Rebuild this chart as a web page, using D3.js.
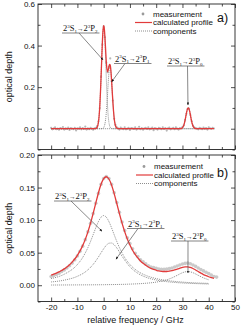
<!DOCTYPE html>
<html><head><meta charset="utf-8">
<script src="https://cdn.jsdelivr.net/npm/d3@7"></script>
<style>html,body{margin:0;padding:0;background:#fff;}svg{display:block;}</style>
</head><body>
<script>
// ---------- data ----------
const xTickLabels = [-20,-10,0,10,20,30,40,50];
const xMinorTicks = [-15,-5,5,15,25,35,45];
const topYLabels = [0.0,0.2,0.4,0.6];
const topYMinor = [-0.1,0.1,0.3,0.5];
const botYLabels = [0.00,0.05,0.10,0.15,0.20];
const botYMinor = [-0.025,0.025,0.075,0.125,0.175];
const legendLabels = ["measurement","calculated profile","components"];

// panel a) measurement, frequencies -20..42 GHz every 0.5 GHz
const topMeasFreq = d3.range(-20, 42.01, 0.5);
const topMeasValues = [
 0.004,-0.003,0.002,0.006,-0.002,0.001,-0.005,0.003,0.000,0.008,-0.004,0.002,-0.001,0.005,-0.006,0.003,0.001,-0.002,0.004,-0.008,
 0.002,0.000,0.006,-0.003,0.003,-0.001,0.010,-0.004,0.002,-0.002,0.004,0.001,-0.005,0.002,
 0.004,0.012,0.035,0.098,0.250,0.405,0.492,0.440,0.318,0.272,0.298,0.338,0.228,0.135,0.048,0.018,0.006,
 0.002,-0.004,0.005,0.001,-0.002,0.007,-0.003,0.000,0.004,-0.006,0.003,0.002,-0.001,0.006,-0.004,0.001,0.009,-0.002,0.003,-0.005,
 0.002,0.004,-0.001,0.006,-0.003,0.000,0.005,-0.007,0.003,0.001,-0.004,0.004,0.002,-0.002,0.007,-0.001,0.003,-0.009,0.002,0.005,
 -0.003,0.001,0.004,-0.002,0.006,0.000,-0.004,0.003,0.002,
 0.008,0.016,0.042,0.072,0.096,0.097,0.066,0.036,0.015,0.006,0.003,
 0.001,-0.003,0.004,0.002,-0.002,0.005,0.000,0.003,-0.004,0.006,0.002,-0.001,0.004,0.001
];
const topProfile = [[-20,0],[-3.5,0],[-3,0.001],[-2.75,0.0026],[-2.5,0.0065],[-2.25,0.0148],[-2,0.031],[-1.75,0.0588],[-1.5,0.103],[-1.25,0.166],[-1,0.245],[-0.75,0.332],[-0.5,0.413],[-0.25,0.472],[0,0.496],[0.25,0.481],[0.5,0.437],[0.75,0.378],[1,0.322],[1.25,0.286],[1.5,0.274],[1.75,0.283],[2,0.299],[2.25,0.310],[2.5,0.305],[2.75,0.279],[3,0.235],[3.25,0.182],[3.5,0.130],[3.75,0.085],[4,0.051],[4.25,0.028],[4.5,0.014],[4.75,0.0066],[5,0.003],[5.5,0],[29.5,0],[29.75,0.0025],[30,0.005],[30.25,0.0095],[30.5,0.0168],[30.75,0.0273],[31,0.0411],[31.25,0.0573],[31.5,0.0739],[31.75,0.0882],[32,0.0976],[32.25,0.0998],[32.5,0.0946],[32.75,0.083],[33,0.0674],[33.25,0.0506],[33.5,0.0352],[33.75,0.0227],[34,0.0135],[34.25,0.0075],[34.5,0.0038],[34.75,0.0018],[35,0.0008],[35.5,0],[42,0]];
const topCompP2 = [[-20,0],[-3.5,0],[-3,0.001],[-2.75,0.0026],[-2.5,0.0065],[-2.25,0.0148],[-2,0.031],[-1.75,0.0588],[-1.5,0.103],[-1.25,0.166],[-1,0.245],[-0.75,0.332],[-0.5,0.412],[-0.25,0.469],[0,0.49],[0.25,0.469],[0.5,0.412],[0.75,0.332],[1,0.245],[1.25,0.166],[1.5,0.103],[1.75,0.0588],[2,0.031],[2.25,0.0148],[2.5,0.0065],[2.75,0.0026],[3,0.001],[3.5,0],[40,0]];
const topCompP1 = [[-20,0],[-1,0],[-0.5,0.0009],[0,0.0056],[0.25,0.0122],[0.5,0.0246],[0.75,0.0456],[1,0.077],[1.25,0.120],[1.5,0.171],[1.75,0.224],[2,0.268],[2.25,0.295],[2.5,0.298],[2.75,0.276],[3,0.234],[3.25,0.182],[3.5,0.130],[3.75,0.085],[4,0.051],[4.25,0.028],[4.5,0.014],[4.75,0.0066],[5,0.003],[5.5,0],[40,0]];
const topCompP0 = [[-20,0],[29.5,0],[29.75,0.0025],[30,0.005],[30.25,0.0095],[30.5,0.0168],[30.75,0.0273],[31,0.0411],[31.25,0.0573],[31.5,0.0739],[31.75,0.0882],[32,0.0976],[32.25,0.0998],[32.5,0.0946],[32.75,0.083],[33,0.0674],[33.25,0.0506],[33.5,0.0352],[33.75,0.0227],[34,0.0135],[34.25,0.0075],[34.5,0.0038],[34.75,0.0018],[35,0.0008],[35.5,0],[40,0]];

// panel b)
const botMeasFreq = d3.range(-20, 43.5, 1);
const botMeasValues = [
 0.0135,0.015,0.0165,0.0185,0.021,0.0235,0.0265,0.030,0.034,0.039,
 0.045,0.052,0.060,0.070,0.082,0.095,0.110,0.126,0.141,0.155,
 0.164,0.167,0.164,0.155,0.142,0.127,0.112,0.097,0.084,0.073,
 0.064,0.056,0.049,0.044,0.039,0.036,0.033,0.030,0.028,0.027,
 0.026,0.025,0.0245,0.0245,0.025,0.0255,0.0265,0.028,0.0295,0.031,
 0.0325,0.0335,0.034,0.033,0.031,0.029,0.0265,0.024,0.022,0.020,
 0.018,0.0155,0.0135,0.0125
];
const botProfileFreq = d3.range(-20, 42.5, 1);
const botProfileValues = [
 0.0155,0.0169,0.0185,0.0204,0.0227,0.0251,0.0280,0.0315,0.0355,0.0403,
 0.0460,0.0527,0.0608,0.0704,0.0820,0.0953,0.1103,0.1262,0.1417,0.1550,
 0.1638,0.1666,0.1631,0.1539,0.1407,0.1255,0.1100,0.0953,0.0823,0.0711,
 0.0618,0.0538,0.0473,0.0419,0.0373,0.0336,0.0306,0.0279,0.0258,0.0242,
 0.0230,0.0220,0.0214,0.0211,0.0211,0.0215,0.0223,0.0234,0.0247,0.0261,
 0.0275,0.0282,0.0282,0.0273,0.0257,0.0234,0.0210,0.0186,0.0164,0.0146,
 0.0130,0.0116,0.0104
];
const botCompP2 = [[-20,0.0102],[-15,0.0169],[-10,0.0318],[-8,0.0425],[-6,0.0578],[-5,0.0672],[-4,0.0776],[-3,0.0882],[-2,0.0977],[-1,0.1045],[0,0.107],[1,0.1045],[2,0.0977],[3,0.0882],[4,0.0776],[5,0.0672],[6,0.0578],[8,0.0425],[10,0.0318],[13,0.0214],[16,0.0152],[20,0.0102],[24,0.0073],[28,0.0055],[32,0.0042],[36,0.0034],[40,0.0028]];
const botCompP1 = [[-20,0.0050],[-15,0.0078],[-10,0.0137],[-7,0.0204],[-5,0.0275],[-3,0.0373],[-2,0.0433],[-1,0.0497],[0,0.0560],[1,0.0613],[2,0.0645],[3,0.0648],[4,0.0621],[5,0.0572],[7,0.0446],[10,0.0283],[13,0.0183],[16,0.0124],[20,0.0080],[24,0.0055],[28,0.0040],[32,0.0030],[36,0.0024],[40,0.0019]];
const botCompP0 = [[-20,0.0003],[-10,0.0005],[0,0.0008],[10,0.0017],[15,0.0027],[20,0.0048],[24,0.0083],[26,0.0113],[28,0.0152],[30,0.0192],[31,0.0205],[32,0.021],[33,0.0205],[34,0.0192],[36,0.0152],[38,0.0113],[40,0.0083]];

// annotation subscripts and targets (freq, optical depth)
const topNotes = [{sub:"2", at:[-0.25,0.331]},{sub:"1", at:[3.05,0.226]},{sub:"0", at:[32.1,0.114]}];
const botNotes = [{sub:"2", at:[-0.64,0.083]},{sub:"1", at:[4.7,0.040]},{sub:"0", at:[32.1,0.0187]}];

// ---------- drawing ----------
const W = 241, H = 329;
const svg = d3.select("body").append("svg").attr("width",W).attr("height",H);
const sans = "Liberation Sans, Arial, sans-serif";
const serif = "Liberation Serif, Times New Roman, serif";
const RED = "#e23b3b", GRAY = "#9a9a9a", DOT = "#808080";

const x = d3.scaleLinear().domain([-25,50]).range([38,235]);
const L = 38, R = 235;

const defs = svg.append("defs");
defs.append("marker").attr("id","ah").attr("viewBox","0 0 10 10").attr("refX",9).attr("refY",5)
  .attr("markerWidth",4).attr("markerHeight",4).attr("orient","auto")
  .append("path").attr("d","M0,1L10,5L0,9Z").attr("fill","#111");

function panel(cfg) {
  const y = d3.scaleLinear().domain(cfg.yDomain).range([cfg.bottom, cfg.top]);
  const g = svg.append("g");
  // measurement points
  g.append("g").selectAll("circle").data(cfg.measFreq.map((f,i)=>[f,cfg.measValues[i]])).join("circle")
    .attr("cx",d=>x(d[0])).attr("cy",d=>y(d[1])).attr("r",cfg.mr).attr("fill",cfg.mfill).attr("opacity",0.9);
  const line = d3.line().x(d=>x(d[0])).y(d=>y(d[1])).curve(d3.curveMonotoneX);
  cfg.comps.forEach(c => g.append("path").attr("d",line(c)).attr("fill","none")
    .attr("stroke",DOT).attr("stroke-width",0.9).attr("stroke-dasharray","1,1"));
  g.append("path").attr("d",line(cfg.profile)).attr("fill","none").attr("stroke",RED).attr("stroke-width",1.3);

  // axes
  const mk = (axis, vals, size, fmt) => axis.tickValues(vals).tickSizeInner(-size).tickSizeOuter(0).tickPadding(3).tickFormat(fmt);
  const none = () => "";
  const ax = [
    [d3.axisLeft(y), cfg.yLabels, 4, cfg.yFmt, `translate(${L},0)`],
    [d3.axisLeft(y), cfg.yMinor, 2.5, none, `translate(${L},0)`],
    [d3.axisRight(y), cfg.yLabels, 4, none, `translate(${R},0)`],
    [d3.axisRight(y), cfg.yMinor, 2.5, none, `translate(${R},0)`],
    [d3.axisBottom(x), xTickLabels, 4, cfg.xLabels ? (d=>String(d)) : none, `translate(0,${cfg.bottom})`],
    [d3.axisBottom(x), xMinorTicks, 2.5, none, `translate(0,${cfg.bottom})`],
    [d3.axisTop(x), xTickLabels, 4, none, `translate(0,${cfg.top})`],
    [d3.axisTop(x), xMinorTicks, 2.5, none, `translate(0,${cfg.top})`]
  ];
  ax.forEach(([a, v, s, f, t]) => {
    const gg = g.append("g").attr("transform",t).call(mk(a,v,s,f));
    gg.select(".domain").remove();
    gg.selectAll("line").attr("stroke","#222").attr("stroke-width",0.8);
    gg.selectAll("text").attr("font-family",sans).attr("font-size",8).attr("fill","#111");
  });
  g.append("rect").attr("x",L).attr("y",cfg.top).attr("width",R-L).attr("height",cfg.bottom-cfg.top)
    .attr("fill","none").attr("stroke","#222").attr("stroke-width",0.9);

  // y label
  g.append("text").attr("transform",`translate(12,${(cfg.top+cfg.bottom)/2}) rotate(-90)`)
    .attr("text-anchor","middle").attr("font-family",sans).attr("font-size",9).attr("fill","#111").text("optical depth");

  // legend
  const lg = cfg.legend;
  g.append("circle").attr("cx",lg.x+8).attr("cy",lg.y-2.5).attr("r",1.4).attr("fill",GRAY);
  g.append("line").attr("x1",lg.x).attr("x2",lg.x+17).attr("y1",lg.y+6).attr("y2",lg.y+6).attr("stroke",RED).attr("stroke-width",1.2);
  g.append("line").attr("x1",lg.x).attr("x2",lg.x+17).attr("y1",lg.y+14.5).attr("y2",lg.y+14.5).attr("stroke",DOT).attr("stroke-width",0.9).attr("stroke-dasharray","1,1");
  legendLabels.forEach((t,i)=> g.append("text").attr("x",lg.x+18).attr("y",lg.y+i*8.6)
    .attr("font-family",sans).attr("font-size",8).attr("fill","#111").text(t));
  g.append("text").attr("x",lg.px).attr("y",lg.py).attr("font-family",sans).attr("font-size",12.5).attr("fill","#111").text(cfg.tag);

  // annotations
  cfg.notes.forEach((n,i)=>{
    const p = cfg.notePos[i];
    const t = g.append("text").attr("x",p.tx).attr("y",p.ty).attr("font-family",serif).attr("font-size",8.5).attr("fill","#111");
    t.append("tspan").text("2");
    t.append("tspan").attr("font-size",5).attr("dy",-3.5).text("3");
    t.append("tspan").attr("dy",3.5).text("S");
    t.append("tspan").attr("font-size",5).attr("dy",1.5).text("1");
    t.append("tspan").attr("font-size",6.5).attr("dy",-2).text("→");
    t.append("tspan").attr("dy",0.5).text("2");
    t.append("tspan").attr("font-size",5).attr("dy",-3.5).text("3");
    t.append("tspan").attr("dy",3.5).text("P");
    t.append("tspan").attr("font-size",5).attr("dy",1.5).text(n.sub);
    const w = t.node().getComputedTextLength();
    const uy = p.ty + 2;
    g.append("line").attr("x1",p.tx-1).attr("x2",p.tx+w+2).attr("y1",uy).attr("y2",uy).attr("stroke","#777").attr("stroke-width",0.9);
    g.append("line").attr("x1",p.fx).attr("y1",uy).attr("x2",x(n.at[0])).attr("y2",y(n.at[1]))
      .attr("stroke","#555").attr("stroke-width",0.7).attr("marker-end","url(#ah)");
  });
}

panel({
  top:4, bottom:149.5, yDomain:[-0.1,0.6], yLabels:topYLabels, yMinor:topYMinor, yFmt:d3.format(".1f"),
  measFreq:topMeasFreq, measValues:topMeasValues, mr:1.1, mfill:"#b0b0b0",
  profile:topProfile, comps:[topCompP2, topCompP1, topCompP0], xLabels:false,
  legend:{x:135, y:16.5, px:217, py:21.5}, tag:"a)",
  notes:topNotes, notePos:[{tx:63,ty:31,fx:79},{tx:115,ty:61.5,fx:125},{tx:168,ty:64,fx:187.5}]
});
panel({
  top:155, bottom:301.5, yDomain:[-0.025,0.2], yLabels:botYLabels, yMinor:botYMinor, yFmt:d3.format(".2f"),
  measFreq:botMeasFreq, measValues:botMeasValues, mr:1.8, mfill:"#c4c4c4",
  profile:d3.zip(botProfileFreq, botProfileValues), comps:[botCompP2, botCompP1, botCompP0], xLabels:true,
  legend:{x:136, y:169, px:217, py:176.5}, tag:"b)",
  notes:botNotes, notePos:[{tx:55,ty:199,fx:71},{tx:128,ty:226.5,fx:138},{tx:172,ty:239,fx:188}]
});

svg.append("text").attr("x",135.5).attr("y",323).attr("text-anchor","middle").attr("font-family",sans)
  .attr("font-size",9).attr("fill","#111").text("relative frequency / GHz");
</script>
</body></html>
